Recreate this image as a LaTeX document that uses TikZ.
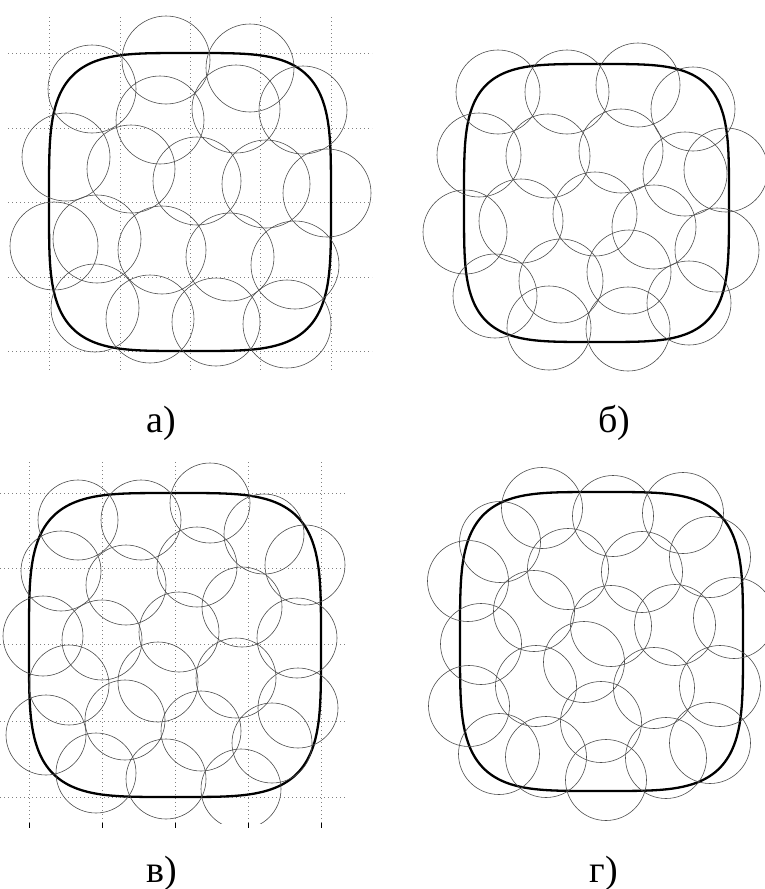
\documentclass[tikz,border=0pt]{standalone}
\usepackage{fontspec}
\setmainfont{Liberation Serif}

\begin{document}
\begin{tikzpicture}[
    x=1pt, y=-1pt,
    disk/.style={draw=black!70, line width=0.6pt},
    border/.style={draw=black, line width=2.3pt, line join=round},
    gridline/.style={draw=black!50, line width=0.7pt, dash pattern=on 0.8pt off 3.2pt},
    tick/.style={draw=black, line width=0.7pt},
    caption/.style={font=\fontsize{38}{44}\selectfont, inner sep=0pt}
]
\useasboundingbox (0,0) rectangle (764,889);

% panel a
\foreach \gx in {49,120,190,260,331} \draw[gridline] (\gx,17) -- (\gx,372);
\foreach \gy in {53,128,202,277,351} \draw[gridline] (8,\gy) -- (372,\gy);
\draw[border, domain=0.5:360.5, samples=181]
    plot ({190+141*cos(\x)/sqrt(abs(cos(\x)))}, {202+149*sin(\x)/sqrt(abs(sin(\x)))}) -- cycle;
\foreach \cx/\cy in {166/60, 250/68, 92/89, 160/120, 236/109, 303/110, 66/157,
    131/169, 197/181, 266/184, 327/193, 54/246, 97/239, 162/250, 230/257,
    295/265, 95/308, 150/319, 216/322, 287/324}
    \draw[disk] (\cx,\cy) circle[radius=44pt];
\node[caption] (lbla) at (161,423) {а)};

% panel b
\draw[border, domain=0.5:360.5, samples=181]
    plot ({596.5+132.5*cos(\x)/sqrt(abs(cos(\x)))}, {203+139*sin(\x)/sqrt(abs(sin(\x)))}) -- cycle;
\foreach \cx/\cy in {498/92, 567/92, 638/85, 693/109, 479/155, 548/156, 621/151,
    685/174, 726/170, 465/232, 521/221, 595/214, 654/227, 717/250, 495/296,
    561/281, 629/272, 689/303, 549/328, 628/329}
    \draw[disk] (\cx,\cy) circle[radius=42pt];
\node[caption] (lblb) at (614,423) {б)};

% panel c
\foreach \gx in {29,102,175,248,321} {
    \draw[gridline] (\gx,462) -- (\gx,823);
    \draw[tick] (\gx,823) -- (\gx,828);
}
\foreach \gy in {493,568,644,721,797} \draw[gridline] (0,\gy) -- (347,\gy);
\draw[border, domain=0.5:360.5, samples=181]
    plot ({175+146*cos(\x)/sqrt(abs(cos(\x)))}, {645+152*sin(\x)/sqrt(abs(sin(\x)))}) -- cycle;
\begin{scope}
\clip (-10,462) rectangle (380,823);
\foreach \cx/\cy in {78/520, 141/520, 210/503, 264/534, 61/571, 126/585, 197/567,
    305/565, 43/636, 102/640, 179/632, 242/607, 297/638, 69/685, 158/682,
    236/678, 298/708, 46/735, 125/720, 201/731, 272/743, 96/773, 166/779, 241/789}
    \draw[disk] (\cx,\cy) circle[radius=40pt];
\end{scope}
\node[caption] (lblc) at (162,873) {в)};

% panel d
\draw[border, domain=0.5:360.5, samples=181]
    plot ({601.5+141.5*cos(\x)/sqrt(abs(cos(\x)))}, {641.5+149.5*sin(\x)/sqrt(abs(sin(\x)))}) -- cycle;
\foreach \cx/\cy in {542/508, 613/516, 683/513, 500/542, 568/569, 642/572, 710/557,
    468/581, 534/611, 611/626, 675/625, 734/618, 481/644, 584/662, 536/686,
    720/686, 654/688, 469/706, 601/722, 710/743, 499/754, 546/757, 666/758, 606/780}
    \draw[disk] (\cx,\cy) circle[radius=40.5pt];
\node[caption] (lbld) at (604,873) {г)};

\end{tikzpicture}
\end{document}
